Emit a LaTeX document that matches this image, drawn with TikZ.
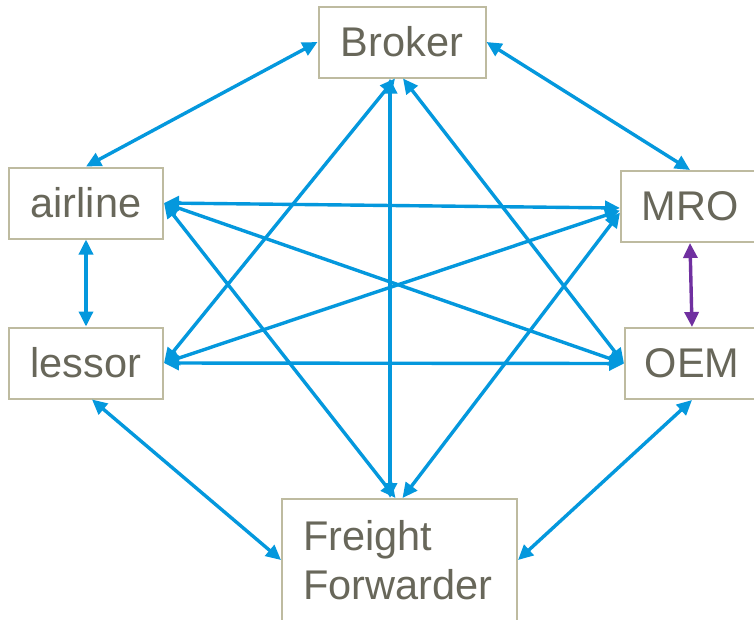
\documentclass[tikz,border=0pt]{standalone}
\usepackage{fontspec}
\setmainfont{Liberation Sans}
\usetikzlibrary{arrows.meta}
\definecolor{arrowblue}{RGB}{4,152,221}
\definecolor{arrowpurple}{RGB}{112,48,160}
\definecolor{boxline}{RGB}{190,187,160}
\definecolor{boxtext}{RGB}{104,103,90}
\begin{document}
\begin{tikzpicture}[x=1pt,y=-1pt,
  box/.style={draw=boxline, line width=2pt, fill=white, text=boxtext,
    font=\fontsize{41.5}{49}\selectfont, inner sep=0pt, minimum height=71pt},
  tip/.tip={Triangle[length=15pt,width=14pt]},
  link/.style={draw=arrowblue, line width=3.4pt, {tip}-{tip}},
  plink/.style={draw=arrowpurple, line width=3.4pt, {tip}-{tip}}
]
\useasboundingbox (0,0) rectangle (754,619);
\clip (0,0) rectangle (754,619);
\fill[white] (0,0) rectangle (754,619);

\node[box, minimum width=167pt] (broker) at (402,42) {Broker};
\node[box, minimum width=154pt] (airline) at (86,203) {airline};
\node[box, minimum width=154pt] (lessor) at (86,363) {lessor};
\node[box, minimum width=138pt] (mro) at (690,206.5) {MRO};
\node[box, minimum width=134pt] (oem) at (692,363.5) {OEM};
\node[box, minimum height=122pt, inner xsep=21pt, text width=193pt, align=left] (ff) at (399.5,560) {Freight\\Forwarder};

\draw[link] (broker.west) -- (airline.north);
\draw[link] (broker.east) -- (mro.north);
\draw[link] (airline.south) -- (lessor.north);
\draw[plink] (mro.south) -- (oem.north);
\draw[link] ([xshift=6pt]lessor.south) -- (ff.west);
\draw[link] (oem.south) -- (ff.east);
\draw[link] ([xshift=-12pt]broker.south) -- ([xshift=-9.5pt]ff.north);
\draw[link] (lessor.east) -- ([xshift=-7pt]broker.south);
\draw[link] (oem.west) -- ([xshift=1pt]broker.south);
\draw[link] (airline.east) -- ([xshift=-4pt]ff.north);
\draw[link] ([yshift=-6pt]mro.west) -- ([xshift=3pt]ff.north);
\draw[link] (airline.east) -- ([yshift=-1.5pt]mro.west);
\draw[link] (airline.east) -- (oem.west);
\draw[link] (lessor.east) -- ([yshift=-4pt]mro.west);
\draw[link] (lessor.east) -- (oem.west);
\end{tikzpicture}
\end{document}
